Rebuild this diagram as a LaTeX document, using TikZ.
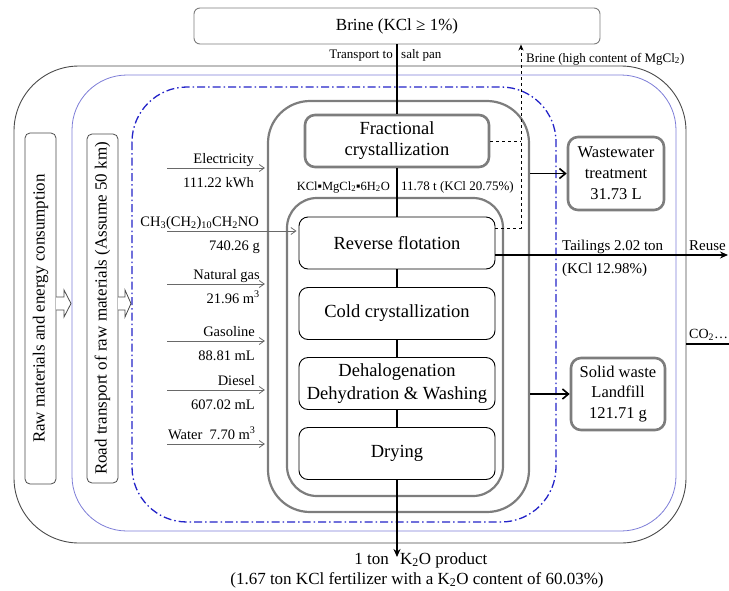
\documentclass[tikz,border=0pt]{standalone}
\usepackage{fontspec}
\setmainfont{Liberation Serif}
\usetikzlibrary{arrows.meta,calc}
\definecolor{boxgray}{RGB}{125,125,125}
\definecolor{frameblue}{RGB}{125,125,215}
\definecolor{dashblue}{RGB}{35,35,200}
\definecolor{framedark}{RGB}{75,75,75}
\definecolor{inputgray}{RGB}{105,105,105}
\newcommand\fsz[2]{\fontsize{#1}{#2}\selectfont}

\begin{document}
\begin{tikzpicture}[x=1pt,y=-1pt,
  stage/.style={draw=black, line width=0.9pt, rounded corners=9pt,
    minimum width=196pt, minimum height=52pt, align=center, inner sep=0pt,
    font=\fsz{18.5}{23}},
  grayunit/.style={draw=boxgray, line width=2.6pt, rounded corners=10pt,
    align=center, inner sep=0pt},
  sidebar/.style={draw=framedark, line width=0.8pt, rounded corners=5pt,
    rotate=90, minimum height=31pt, inner sep=0pt, font=\fsz{17}{20}},
  inarrow/.style={draw=inputgray, line width=0.8pt,
    -{Straight Barb[length=5pt,width=7pt]}, shorten >=2pt},
  inlabel/.style={font=\fsz{14.5}{17}, inner sep=0pt},
  smalllabel/.style={font=\fsz{13}{15}, inner sep=0pt},
  midlabel/.style={font=\fsz{15}{18}, inner sep=0pt},
  biglabel/.style={font=\fsz{17}{20}, inner sep=0pt},
  flow/.style={draw=black, line width=1.5pt},
  outarrow/.style={draw=black, line width=1.6pt,
    -{Straight Barb[length=6pt,width=10pt]}},
  hollow/.style={draw=framedark, line width=0.8pt, fill=white}
]
\useasboundingbox (0,0) rectangle (729,590);

% system boundaries
\draw[framedark, line width=0.9pt, rounded corners=65pt] (14,66) rectangle (686,543);
\draw[frameblue, line width=0.8pt, rounded corners=55pt] (72,75) rectangle (676,531);
\draw[dashblue, line width=1.3pt, rounded corners=55pt,
  dash pattern=on 8pt off 3pt on 1.5pt off 3pt] (132,87) rectangle (556,522);

% brine source
\node[draw=boxgray, line width=0.9pt, rounded corners=6pt, minimum width=406pt,
  minimum height=36pt, font=\fsz{17}{20}] (brine) at (397,26) {Brine (KCl ≥ 1\%)};

% left side bars
\node[sidebar, minimum width=351pt] (raw) at (40.5,308.5) {Raw materials and energy consumption};
\node[sidebar, minimum width=349pt] (road) at (102.5,308.5) {Road transport of raw materials (Assume 50 km)};
\draw[hollow] (56,297) -- (64,297) -- (64,290) -- (71,303.5) -- (64,317) -- (64,310) -- (56,310);
\draw[hollow] (118,297) -- (125,297) -- (125,290) -- (131,303.5) -- (125,317) -- (125,310) -- (118,310);

% process containers
\node[draw=boxgray, line width=2.2pt, rounded corners=42pt, minimum width=261pt,
  minimum height=411pt] (procouter) at (398.5,306.5) {};
\node[draw=boxgray, line width=2.2pt, rounded corners=30pt, minimum width=216pt,
  minimum height=298pt] (procinner) at (395,347) {};

% process stages
\node[grayunit, minimum width=184pt, minimum height=52pt, font=\fsz{18.5}{21}] (frac) at (397,141) {Fractional\\crystallization};
\node[stage] (rev) at (397,243) {Reverse flotation};
\node[stage] (cold) at (397,313.5) {Cold crystallization};
\node[stage] (dehal) at (397,383.5) {Dehalogenation\\Dehydration \& Washing};
\node[stage] (dry) at (397,453.5) {Drying};

% main flow
\draw[flow, line width=2pt] (brine) -- (frac);
\draw[flow] (frac) -- (rev);
\draw[flow, line width=1.2pt] (rev) -- (cold);
\draw[flow, line width=1.2pt] (cold) -- (dehal);
\draw[flow, line width=1.2pt] (dehal) -- (dry);
\coordinate (prodend) at (397,557);
\draw[flow, -{Stealth[length=8pt,width=7pt]}] (dry) -- (prodend);

\node[smalllabel, anchor=base east] (tr1) at (393,58) {Transport to};
\node[smalllabel, anchor=base west] (tr2) at (401,58) {salt pan};
\node[font=\fsz{12.5}{15}, inner sep=0pt, anchor=base east] (carn) at (390,190)
  {KCl▪MgCl\textsubscript{2}▪6H\textsubscript{2}O};
\node[smalllabel, anchor=base west] (carnval) at (401,190) {11.78 t (KCl 20.75\%)};

% brine return
\coordinate (dc) at (521,228);
\draw[dashed, line width=1pt, -{Stealth[length=6pt,width=5pt]}]
  (rev.east |- dc) -- (dc) -- (dc |- brine.south);
\draw[dashed, line width=1pt] (frac.east) -- (frac.east -| dc);
\node[smalllabel, anchor=base west] (mgbrine) at (526,62) {Brine (high content of MgCl\textsubscript{2})};

% inputs
\coordinate (inE) at (167,168);
\coordinate (inC) at (167,231);
\coordinate (inN) at (167,284);
\coordinate (inG) at (167,341);
\coordinate (inD) at (167,390);
\coordinate (inW) at (167,444);
\draw[inarrow] (inE) -- (inE -| procouter.west);
\draw[inarrow] (inC) -- (inC -| rev.west);
\draw[inarrow] (inN) -- (inN -| procouter.west);
\draw[inarrow] (inG) -- (inG -| procouter.west);
\draw[inarrow] (inD) -- (inD -| procouter.west);
\draw[inarrow] (inW) -- (inW -| procouter.west);

\node[inlabel, anchor=base east] (lE) at (254,163) {Electricity};
\node[inlabel, anchor=base east] (vE) at (254,187) {111.22 kWh};
\node[inlabel, anchor=base east] (lC) at (259,226)
  {CH\textsubscript{3}(CH\textsubscript{2})\textsubscript{10}CH\textsubscript{2}NO};
\node[inlabel, anchor=base east] (vC) at (260,250) {740.26 g};
\node[inlabel, anchor=base east] (lN) at (260,279) {Natural gas};
\node[inlabel, anchor=base east] (vN) at (260,303) {21.96 m\textsuperscript{3}};
\node[inlabel, anchor=base east] (lG) at (255,336) {Gasoline};
\node[inlabel, anchor=base east] (vG) at (255,360) {88.81 mL};
\node[inlabel, anchor=base east] (lD) at (255,385) {Diesel};
\node[inlabel, anchor=base east] (vD) at (255,409) {607.02 mL};
\node[inlabel, anchor=base west] (lW) at (168,439) {Water\ \ 7.70 m\textsuperscript{3}};

% outputs
\node[grayunit, minimum width=96pt, minimum height=73pt, font=\fsz{16.5}{21}] (ww) at (616,173.5)
  {Wastewater\\treatment\\31.73 L};
\node[grayunit, minimum width=94pt, minimum height=72pt, font=\fsz{16.5}{20.5}] (solid) at (618,394)
  {Solid waste\\Landfill\\121.71 g};
\draw[outarrow] (procouter.east |- ww) -- (ww.west);
\draw[outarrow] (procouter.east |- solid) -- (solid.west);

\coordinate (tailend) at (728,255);
\draw[flow, -{Stealth[length=8pt,width=7pt]}] (rev.east |- tailend) -- (tailend);
\node[midlabel, anchor=base west] (tail1) at (562,250) {Tailings\ 2.02 ton};
\node[midlabel, anchor=base west] (tail2) at (562,273) {(KCl 12.98\%)};
\node[midlabel, anchor=base west] (reuse) at (689,250) {Reuse};

\coordinate (co2a) at (686,344);
\coordinate (co2b) at (729,344);
\draw[black, line width=1.3pt] (co2a) -- (co2b);
\node[font=\fsz{14}{16}, inner sep=0pt, anchor=base west] (co2) at (689,338) {CO\textsubscript{2}…};

% product
\node[biglabel, anchor=base east] (prod1) at (389,564) {1 ton};
\node[biglabel, anchor=base west] (prod2) at (400,564) {K\textsubscript{2}O product};
\node[biglabel, anchor=base] (prod3) at (417,584)
  {(1.67 ton KCl fertilizer with a K\textsubscript{2}O content of 60.03\%)};
\end{tikzpicture}
\end{document}
